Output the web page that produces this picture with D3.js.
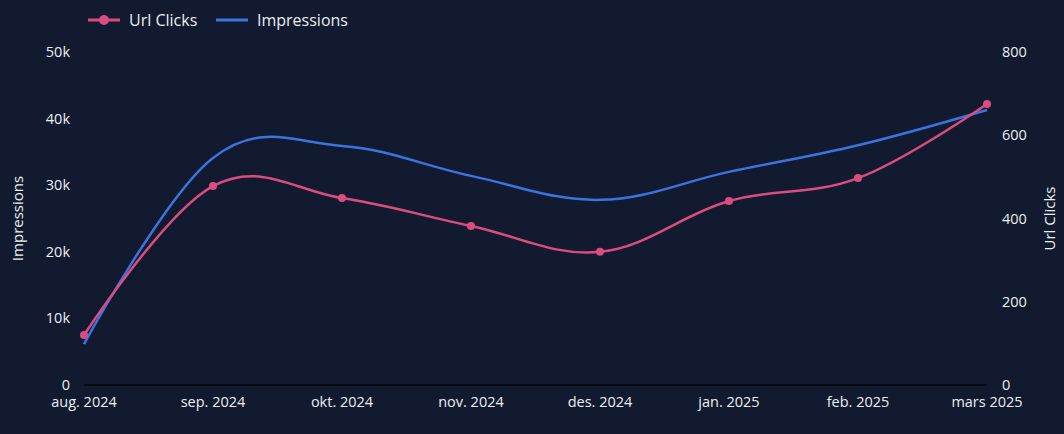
<!DOCTYPE html>
<html>
<head>
<meta charset="utf-8">
<script src="https://cdn.jsdelivr.net/npm/d3@7"></script>
<style>
  html, body { margin: 0; padding: 0; background: #111a2e; }
  svg { display: block; font-family: "Open Sans", Lato, sans-serif; }
</style>
</head>
<body>
<div id="chart"></div>
<script>
const months = ['aug. 2024', 'sep. 2024', 'okt. 2024', 'nov. 2024', 'des. 2024', 'jan. 2025', 'feb. 2025', 'mars 2025'];
const urlClicks = [120, 478, 449, 382, 320, 442, 497, 675];
const impressions = [6150, 34100, 35900, 31400, 27800, 32000, 36000, 41300];
const impTicks = [0, 10000, 20000, 30000, 40000, 50000];
const clickTicks = [0, 200, 400, 600, 800];

const width = 1064, height = 434;
const margin = { top: 52, right: 77, bottom: 49, left: 84 };
const pink = '#dc4c82', blue = '#3b73e0', textCol = '#eceef3';

const svg = d3.select('#chart').append('svg')
  .attr('width', width)
  .attr('height', height);

svg.append('rect').attr('width', width).attr('height', height).attr('fill', '#111a2e');

const x = d3.scalePoint().domain(months).range([margin.left, width - margin.right]);
const yLeft = d3.scaleLinear().domain([0, 50000]).range([height - margin.bottom, margin.top]);
const yRight = d3.scaleLinear().domain([0, 800]).range([height - margin.bottom, margin.top]);

// x axis baseline + labels
svg.append('line')
  .attr('x1', margin.left).attr('x2', width - margin.right)
  .attr('y1', yLeft(0)).attr('y2', yLeft(0))
  .attr('stroke', '#05070d').attr('stroke-width', 1.5);

svg.selectAll('.xlab')
  .data(months)
  .enter().append('text')
  .attr('class', 'xlab')
  .attr('x', d => x(d))
  .attr('y', yLeft(0) + 22)
  .attr('text-anchor', 'middle')
  .attr('fill', textCol)
  .attr('font-size', 14.5)
  .text(d => d);

// left axis
svg.selectAll('.ylab')
  .data(impTicks)
  .enter().append('text')
  .attr('x', margin.left - 14)
  .attr('y', d => yLeft(d))
  .attr('dy', '0.35em')
  .attr('text-anchor', 'end')
  .attr('fill', textCol)
  .attr('font-size', 14.5)
  .text(d => d === 0 ? '0' : d3.format('~s')(d));

// right axis
svg.selectAll('.yrlab')
  .data(clickTicks)
  .enter().append('text')
  .attr('x', width - margin.right + 15)
  .attr('y', d => yRight(d))
  .attr('dy', '0.35em')
  .attr('fill', textCol)
  .attr('font-size', 14.5)
  .text(d => d);

// axis titles
svg.append('text')
  .attr('transform', `translate(23,${(yLeft(0) + yLeft(50000)) / 2}) rotate(-90)`)
  .attr('text-anchor', 'middle')
  .attr('fill', textCol)
  .attr('font-size', 15)
  .text('Impressions');

svg.append('text')
  .attr('transform', `translate(1055,${(yRight(0) + yRight(800)) / 2}) rotate(-90)`)
  .attr('text-anchor', 'middle')
  .attr('fill', textCol)
  .attr('font-size', 15)
  .text('Url Clicks');

// lines
const curve = d3.curveCardinal.tension(-0.1);

const impLine = d3.line()
  .x((d, i) => x(months[i]))
  .y(d => yLeft(d))
  .curve(curve);

const clickLine = d3.line()
  .x((d, i) => x(months[i]))
  .y(d => yRight(d))
  .curve(curve);

svg.append('path')
  .datum(impressions)
  .attr('d', impLine)
  .attr('fill', 'none')
  .attr('stroke', blue)
  .attr('stroke-width', 2.5);

svg.append('path')
  .datum(urlClicks)
  .attr('d', clickLine)
  .attr('fill', 'none')
  .attr('stroke', pink)
  .attr('stroke-width', 2.5);

svg.selectAll('.pt')
  .data(urlClicks)
  .enter().append('circle')
  .attr('cx', (d, i) => x(months[i]))
  .attr('cy', d => yRight(d))
  .attr('r', 4)
  .attr('fill', pink);

// legend
const legend = svg.append('g');
legend.append('line').attr('x1', 88).attr('x2', 120).attr('y1', 20).attr('y2', 20)
  .attr('stroke', pink).attr('stroke-width', 3);
legend.append('circle').attr('cx', 104).attr('cy', 20).attr('r', 5).attr('fill', pink);
legend.append('text').attr('x', 129).attr('y', 20).attr('dy', '0.35em')
  .attr('fill', textCol).attr('font-size', 16).text('Url Clicks');
legend.append('line').attr('x1', 216).attr('x2', 248).attr('y1', 20).attr('y2', 20)
  .attr('stroke', blue).attr('stroke-width', 3);
legend.append('text').attr('x', 257).attr('y', 20).attr('dy', '0.35em')
  .attr('fill', textCol).attr('font-size', 16).text('Impressions');
</script>
</body>
</html>
